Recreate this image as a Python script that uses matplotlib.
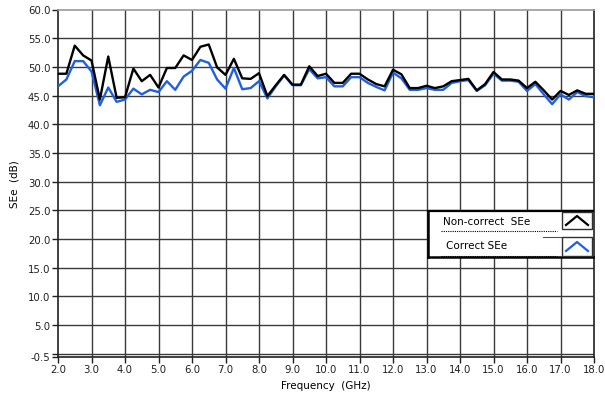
import numpy as np
import matplotlib.pyplot as plt
from matplotlib.lines import Line2D
from matplotlib.patches import Rectangle

# Frequency sweep (GHz) and shielding effectiveness (dB)
freq = [2.0, 2.25, 2.5, 2.75, 3.0, 3.25, 3.5, 3.75, 4.0, 4.25, 4.5, 4.75,
        5.0, 5.25, 5.5, 5.75, 6.0, 6.25, 6.5, 6.75, 7.0, 7.25, 7.5, 7.75,
        8.0, 8.25, 8.5, 8.75, 9.0, 9.25, 9.5, 9.75, 10.0, 10.25, 10.5, 10.75,
        11.0, 11.25, 11.5, 11.75, 12.0, 12.25, 12.5, 12.75, 13.0, 13.25, 13.5, 13.75,
        14.0, 14.25, 14.5, 14.75, 15.0, 15.25, 15.5, 15.75, 16.0, 16.25, 16.5, 16.75,
        17.0, 17.25, 17.5, 17.75, 18.0]

se_noncorrect = [48.8, 48.8, 53.7, 52.0, 51.1, 44.3, 51.8, 44.6, 44.7, 49.7, 47.5, 48.6,
                 46.4, 49.8, 49.8, 52.0, 51.2, 53.5, 53.9, 49.9, 48.6, 51.4, 48.0, 47.9,
                 48.9, 44.9, 46.8, 48.6, 46.9, 46.9, 50.1, 48.4, 48.8, 47.2, 47.2, 48.8,
                 48.8, 47.8, 47.0, 46.6, 49.5, 48.7, 46.3, 46.3, 46.7, 46.3, 46.6, 47.5,
                 47.7, 47.9, 45.9, 47.0, 49.1, 47.8, 47.8, 47.6, 46.3, 47.4, 45.9, 44.3,
                 45.8, 45.1, 45.9, 45.3, 45.3]

se_correct = [46.6, 47.8, 51.0, 51.0, 49.2, 43.3, 46.4, 43.9, 44.3, 46.2, 45.2, 46.0,
              45.6, 47.5, 46.0, 48.3, 49.3, 51.2, 50.7, 47.8, 46.2, 49.8, 46.1, 46.3,
              47.5, 44.5, 46.6, 48.5, 46.8, 46.8, 49.6, 48.0, 48.2, 46.6, 46.6, 48.2,
              48.2, 47.2, 46.5, 45.9, 49.0, 48.0, 46.0, 46.0, 46.3, 46.0, 46.0, 47.2,
              47.5, 47.7, 45.8, 46.8, 48.8, 47.6, 47.6, 47.4, 45.8, 47.0, 45.2, 43.5,
              45.2, 44.3, 45.6, 44.9, 44.7]

x_ticks = [2.0, 3.0, 4.0, 5.0, 6.0, 7.0, 8.0, 9.0, 10.0, 11.0, 12.0, 13.0, 14.0, 15.0, 16.0, 17.0, 18.0]
y_ticks = [-0.5, 0.0, 5.0, 10.0, 15.0, 20.0, 25.0, 30.0, 35.0, 40.0, 45.0, 50.0, 55.0, 60.0]
y_labels = ["-0.5", "", "5.0", "10.0", "15.0", "20.0", "25.0", "30.0", "35.0", "40.0",
            "45.0", "50.0", "55.0", "60.0"]

W, H = 605, 402
fig = plt.figure(figsize=(W / 100, H / 100), dpi=100)
ax = fig.add_axes([58 / W, 1 - 357.5 / H, (594 - 58) / W, (357.5 - 10.5) / H])

blue = "#1f5fe6"
ax.plot(freq, se_correct, color=blue, lw=1.7, zorder=3)
ax.plot(freq, se_noncorrect, color="black", lw=1.7, zorder=4)

ax.set_xlim(2.0, 18.0)
ax.set_ylim(-0.5, 60.0)
ax.set_xticks(x_ticks)
ax.set_xticklabels([f"{v:.1f}" for v in x_ticks])
ax.set_yticks(y_ticks)
ax.set_yticklabels(y_labels)
ax.tick_params(direction="out", length=4, width=1, labelsize=7.3, pad=1.5, colors="#202020")

# grid on the integer GHz and every 5 dB (plus the 0 dB line)
for x in x_ticks[1:-1]:
    ax.axvline(x, color="#3a3a3a", lw=1.0, zorder=1)
for y in y_ticks[1:-1]:
    ax.axhline(y, color="#3a3a3a", lw=1.0, zorder=1)
for s in ax.spines.values():
    s.set_color("#202020")
    s.set_linewidth(1.2)
ax.spines["top"].set_color("#9a9a9a")

ax.set_xlabel("Frequency  (GHz)", fontsize=7.5, labelpad=4)
ax.set_ylabel("SEe  (dB)", fontsize=7.5, labelpad=6)


# legend panel drawn in pixel coordinates of the figure
def px(x, y):
    return x / W, 1 - y / H


def line(xs, ys, **kw):
    pts = [px(x, y) for x, y in zip(xs, ys)]
    fig.add_artist(Line2D([p[0] for p in pts], [p[1] for p in pts],
                          transform=fig.transFigure, **kw))


x0, y0 = px(428, 258)
fig.add_artist(Rectangle((x0, y0), (593 - 428) / W, (258 - 212) / H,
                         transform=fig.transFigure, facecolor="white",
                         edgecolor="none", zorder=5))
line([428, 593], [212, 212], color="black", lw=1.6, zorder=6)
line([428, 593], [258, 258], color="black", lw=1.8, zorder=6)
line([428, 428], [212, 258], color="black", lw=1.8, zorder=6)
line([543, 562], [237.5, 237.5], color="#505050", lw=0.8, zorder=6)

rows = [("Non-correct  SEe", "black", 212.5, 229.5, 222),
        ("Correct SEe", blue, 237.5, 256.5, 246.5)]
for label, col, top, bot, ty in rows:
    tx, tyf = px(443 if col == "black" else 446, ty)
    fig.text(tx, tyf, label, fontsize=7.5, va="center", ha="left", zorder=7)
    line([441, 557], [bot + 2.5 if col == "black" else bot, bot + 2.5 if col == "black" else bot],
         color="black", lw=0.8, ls=(0, (1, 1)), zorder=7)
    bx, by = px(562, bot)
    fig.add_artist(Rectangle((bx, by), 30 / W, (bot - top) / H, transform=fig.transFigure,
                             facecolor="white", edgecolor="#303030", lw=1.0, zorder=6))
    mid = (top + bot) / 2
    line([566, 577, 588], [mid + 5, mid - 4, mid + 5], color=col, lw=1.6, zorder=7)

fig.savefig("out.png", dpi=100)
